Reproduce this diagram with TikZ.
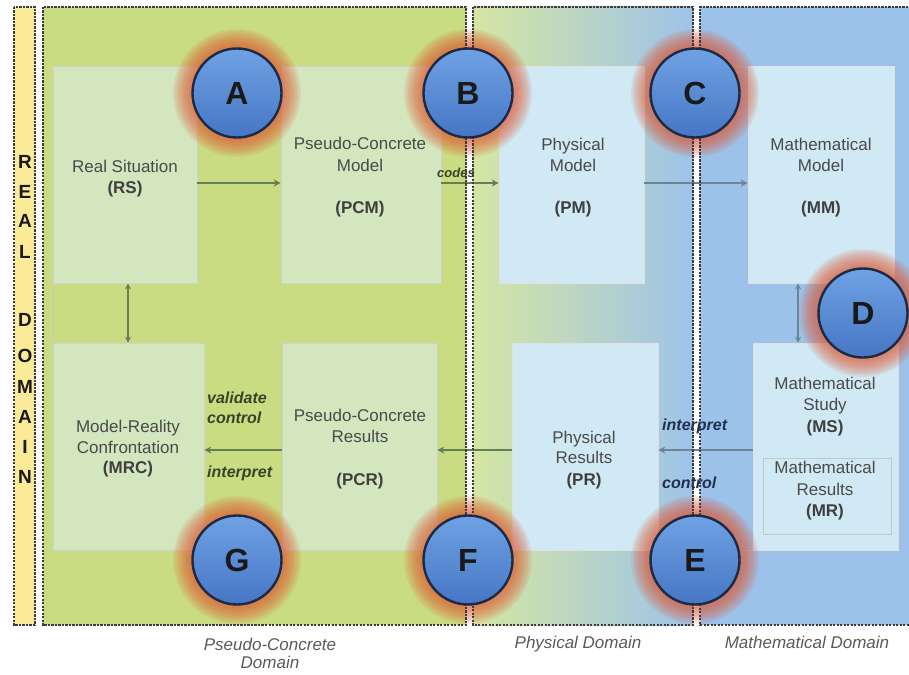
\documentclass[tikz,border=0pt]{standalone}
\usepackage{fontspec}
\setmainfont{Liberation Sans}
\usetikzlibrary{arrows.meta}
\definecolor{realY}{HTML}{FBEA98}
\definecolor{pcG}{HTML}{C9DC82}
\definecolor{pcBox}{HTML}{D3E6BE}
\definecolor{phG}{HTML}{D5E6A2}
\definecolor{phC}{HTML}{C4E2EC}
\definecolor{phB}{HTML}{9EC3EA}
\definecolor{maB}{HTML}{9DC2EA}
\definecolor{blBox}{HTML}{D0E9F4}
\definecolor{txtC}{HTML}{4A4A4A}
\definecolor{arrG}{HTML}{647E58}
\definecolor{arrB}{HTML}{6C8498}
\definecolor{glowC}{HTML}{E0552E}
\definecolor{ballT}{HTML}{6FA2E4}
\definecolor{ballB}{HTML}{4676C4}
\definecolor{ballE}{HTML}{1B2B47}
\definecolor{lblG}{HTML}{36452A}
\definecolor{lblB}{HTML}{1F3050}
\definecolor{domT}{HTML}{5A5A5A}
\definecolor{dashC}{HTML}{3C3C3C}
\begin{document}
\begin{tikzpicture}[x=1pt,y=-1pt,
  dom/.style={draw=dashC,line width=1.2pt,dash pattern=on 2.2pt off 1.3pt},
  gbox/.style={draw=black!18,fill=pcBox,inner sep=0pt,rectangle,line width=0.6pt},
  bbox/.style={draw=black!12,fill=blBox,inner sep=0pt,rectangle,line width=0.6pt},
  boxtext/.style={font=\fontsize{17}{20}\selectfont,text=txtC,anchor=base,inner sep=0pt},
  boxbold/.style={font=\fontsize{17}{20}\selectfont\bfseries,text=txtC!85!black,anchor=base,inner sep=0pt},
  lbl/.style={font=\fontsize{16}{18}\selectfont\bfseries\itshape,anchor=base west,inner sep=0pt},
  domlbl/.style={font=\fontsize{17}{20}\selectfont\itshape,text=domT,anchor=base,inner sep=0pt},
  realletter/.style={font=\fontsize{19}{20}\selectfont\bfseries,text=black!90,inner sep=0pt},
  ball/.style={circle,minimum size=89pt,inner sep=0pt,draw=ballE,line width=2.4pt,
    top color=ballT,bottom color=ballB,font=\fontsize{32}{32}\selectfont\bfseries,text=black!90},
  arrg/.style={-{Stealth[length=7pt,width=7pt]},line width=2pt,draw=arrG},
  arrb/.style={-{Stealth[length=7pt,width=7pt]},line width=2pt,draw=arrB},
  darrg/.style={{Stealth[length=6pt,width=6pt]}-{Stealth[length=6pt,width=6pt]},line width=1.8pt,draw=arrG},
  darrb/.style={{Stealth[length=6pt,width=6pt]}-{Stealth[length=6pt,width=6pt]},line width=1.8pt,draw=arrB}
]
\useasboundingbox (0,0) rectangle (909,674);
\fill[white] (0,0) rectangle (909,674);
% domains
\fill[realY] (14,7) rectangle (35,625);
\fill[pcG] (43,7) rectangle (466,625);
\shade[left color=phG,middle color=phC,right color=phB] (473,7) rectangle (693,625);
\fill[maB] (700,7) rectangle (915,625);
% thin frame lines
\draw[black!22,line width=0.7pt] (748,66) -- (53,66) -- (53,550) -- (753,550);
% boxes
\node[gbox,minimum width=144pt,minimum height=217pt] (rs) at (125,174.5) {};
\node[gbox,minimum width=160pt,minimum height=217pt] (pcm) at (361,174.5) {};
\node[bbox,minimum width=145pt,minimum height=217pt] (pm) at (571.5,174.5) {};
\node[bbox,minimum width=146pt,minimum height=217pt] (mm) at (821,174.5) {};
\node[gbox,minimum width=151pt,minimum height=207pt] (mrc) at (128.5,446.5) {};
\node[gbox,minimum width=155pt,minimum height=207pt] (pcr) at (359.5,446.5) {};
\node[bbox,minimum width=146pt,minimum height=207pt] (pr) at (585,446.5) {};
\node[bbox,minimum width=145pt,minimum height=207pt] (ms) at (825.5,446.5) {};
\node[bbox,draw=black!22,minimum width=128pt,minimum height=76pt] (mr) at (827,496) {};
% box texts
\node[boxtext] (rs1) at (125,172) {Real Situation};
\node[boxbold] (rs2) at (125,193) {(RS)};
\node[boxtext] (pcm1) at (360,149) {Pseudo-Concrete};
\node[boxtext] (pcm2) at (360,171) {Model};
\node[boxbold] (pcm3) at (360,213) {(PCM)};
\node[boxtext] (pm1) at (573,150) {Physical};
\node[boxtext] (pm2) at (573,171) {Model};
\node[boxbold] (pm3) at (573,213) {(PM)};
\node[boxtext] (mm1) at (821,150) {Mathematical};
\node[boxtext] (mm2) at (821,171) {Model};
\node[boxbold] (mm3) at (821,213) {(MM)};
\node[boxtext] (mrc1) at (128,432) {Model-Reality};
\node[boxtext] (mrc2) at (128,453) {Confrontation};
\node[boxbold] (mrc3) at (128,473) {(MRC)};
\node[boxtext] (pcr1) at (360,421) {Pseudo-Concrete};
\node[boxtext] (pcr2) at (360,442) {Results};
\node[boxbold] (pcr3) at (360,485) {(PCR)};
\node[boxtext] (pr1) at (584,443) {Physical};
\node[boxtext] (pr2) at (584,463) {Results};
\node[boxbold] (pr3) at (584,485) {(PR)};
\node[boxtext] (ms1) at (825,389) {Mathematical};
\node[boxtext] (ms2) at (825,410) {Study};
\node[boxbold] (ms3) at (825,432) {(MS)};
\node[boxtext] (mr1) at (825,473) {Mathematical};
\node[boxtext] (mr2) at (825,495) {Results};
\node[boxbold] (mr3) at (825,516) {(MR)};
% arrows
\draw[arrg] ([yshift=-8.5pt]rs.east) -- ([yshift=-8.5pt]pcm.west);
\draw[arrg] ([yshift=-8.5pt]pcm.east) -- ([yshift=-8.5pt]pm.west);
\draw[arrb] ([yshift=-8.5pt]pm.east) -- ([yshift=-8.5pt]mm.west);
\draw[darrg] ([xshift=3pt]rs.south) -- ([xshift=3pt]rs.south |- mrc.north);
\draw[darrb] ([xshift=-23pt]mm.south) -- ([xshift=-23pt]mm.south |- ms.north);
\draw[arrb] ([yshift=-3.5pt]ms.west) -- ([yshift=-3.5pt]pr.east);
\draw[arrg] ([yshift=-3.5pt]pr.west) -- ([yshift=-3.5pt]pcr.east);
\draw[arrg] ([yshift=-3.5pt]pcr.west) -- ([yshift=-3.5pt]mrc.east);
% labels
\node[lbl,font=\fontsize{13}{14}\selectfont\bfseries\itshape,text=lblG] (codes) at (437,177) {codes};
\node[lbl,text=lblG] (val) at (207,403) {validate};
\node[lbl,text=lblG] (ctl1) at (207,423) {control};
\node[lbl,text=lblG] (int1) at (207,477) {interpret};
\node[lbl,text=lblB] (int2) at (662,430) {interpret};
\node[lbl,text=lblB] (ctl2) at (662,488) {control};
% glows
\foreach \cx/\cy in {237/93,468/93,695/93,863/313,695/560,468/560,237/560}{
  \foreach \r in {46,48,...,64}{
    \fill[glowC,opacity=0.11] (\cx,\cy) circle[radius=\r pt];
  }
}
% domain borders
\draw[dom] (14,7) rectangle (35,625);
\draw[dom] (43,7) rectangle (466,625);
\draw[dom] (473,7) rectangle (693,625);
\draw[dom] (915,7) -- (700,7) -- (700,625) -- (915,625);
% real domain letters
\foreach \l/\yy [count=\i] in {R/162,E/192,A/221,L/252,D/320,O/356,M/387,A/417,I/447,N/477}{
  \node[realletter] (rd\i) at (25,\yy) {\l};
}
% balls
\node[ball] (A) at (237,93) {A};
\node[ball] (B) at (468,93) {B};
\node[ball] (C) at (695,93) {C};
\node[ball] (D) at (863,313) {D};
\node[ball] (E) at (695,560) {E};
\node[ball] (F) at (468,560) {F};
\node[ball] (G) at (237,560) {G};
% domain labels
\node[domlbl] (d1a) at (270,650) {Pseudo-Concrete};
\node[domlbl] (d1b) at (270,668) {Domain};
\node[domlbl] (d2) at (578,648) {Physical Domain};
\node[domlbl] (d3) at (807,648) {Mathematical Domain};
\end{tikzpicture}
\end{document}
